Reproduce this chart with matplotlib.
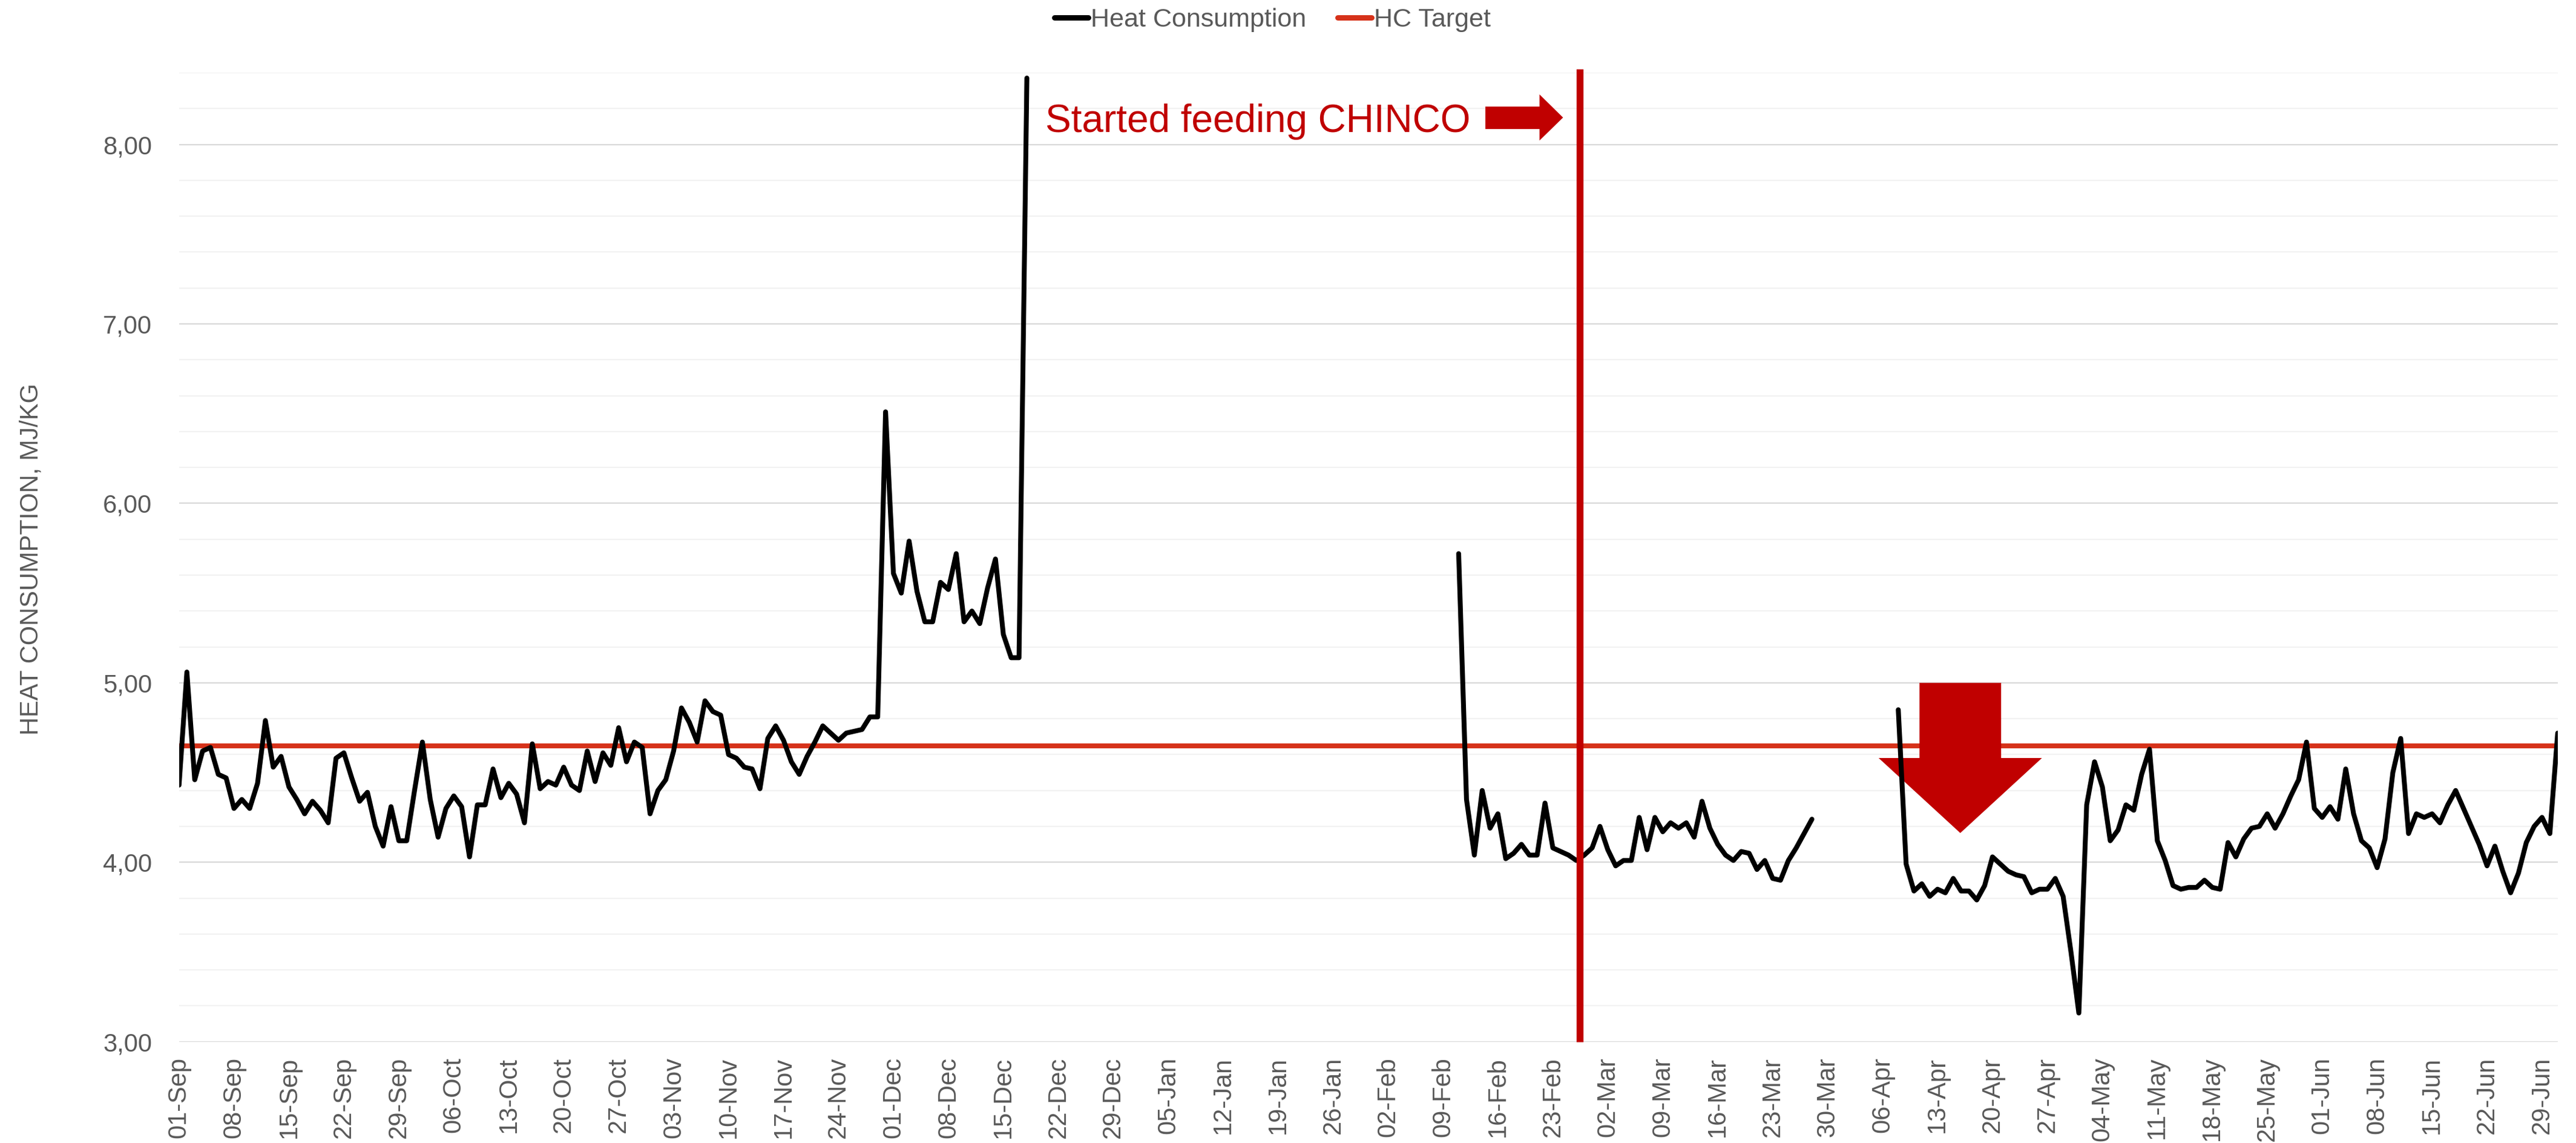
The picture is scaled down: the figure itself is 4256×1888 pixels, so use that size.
import numpy as np
import pandas as pd
import matplotlib
matplotlib.use("Agg")
import matplotlib.pyplot as plt
import matplotlib.dates as mdates
from matplotlib.patches import Polygon
from matplotlib.lines import Line2D
from matplotlib.ticker import MultipleLocator, FuncFormatter

plt.rcParams['font.family'] = ['Liberation Sans', 'DejaVu Sans']

# daily heat consumption, MJ/kg
sep_dec = [4.43, 5.06, 4.46, 4.62, 4.64, 4.49, 4.47, 4.30, 4.35, 4.30,
           4.44, 4.79, 4.53, 4.59, 4.42, 4.35, 4.27, 4.34, 4.29, 4.22,
           4.58, 4.61, 4.47, 4.34, 4.39, 4.20, 4.09, 4.31, 4.12, 4.12,
           4.40, 4.67, 4.35, 4.14, 4.30, 4.37, 4.31, 4.03, 4.32, 4.32,
           4.52, 4.36, 4.44, 4.38, 4.22, 4.66, 4.41, 4.45, 4.43, 4.53,
           4.43, 4.40, 4.62, 4.45, 4.61, 4.54, 4.75, 4.56, 4.67, 4.64,
           4.27, 4.40, 4.46, 4.62, 4.86, 4.78, 4.67, 4.90, 4.84, 4.82,
           4.60, 4.58, 4.53, 4.52, 4.41, 4.69, 4.76, 4.68, 4.56, 4.49,
           4.59, 4.67, 4.76, 4.72, 4.68, 4.72, 4.73, 4.74, 4.81, 4.81,
           6.51, 5.61, 5.50, 5.79, 5.51, 5.34, 5.34, 5.56, 5.52, 5.72,
           5.34, 5.40, 5.33, 5.53, 5.69, 5.27, 5.14, 5.14, 8.37]
feb_mar = [5.72, 4.35, 4.04, 4.40, 4.19, 4.27, 4.02, 4.05, 4.10, 4.04,
           4.04, 4.33, 4.08, 4.06, 4.04, 4.01, 4.04, 4.08, 4.20, 4.07,
           3.98, 4.01, 4.01, 4.25, 4.07, 4.25, 4.17, 4.22, 4.19, 4.22,
           4.14, 4.34, 4.19, 4.10, 4.04, 4.01, 4.06, 4.05, 3.96, 4.01,
           3.91, 3.90, 4.01, 4.08, 4.16, 4.24]
apr_jul = [4.85, 3.99, 3.84, 3.88, 3.81, 3.85, 3.83, 3.91, 3.84, 3.84,
           3.79, 3.87, 4.03, 3.99, 3.95, 3.93, 3.92, 3.83, 3.85, 3.85,
           3.91, 3.81, 3.50, 3.16, 4.32, 4.56, 4.42, 4.12, 4.18, 4.32,
           4.29, 4.49, 4.63, 4.12, 4.01, 3.87, 3.85, 3.86,
           3.86, 3.90, 3.86, 3.85, 4.11, 4.03, 4.13, 4.19, 4.20, 4.27,
           4.19, 4.27, 4.37, 4.46, 4.67, 4.30, 4.25, 4.31, 4.24, 4.52,
           4.27, 4.12, 4.08, 3.97, 4.13, 4.50, 4.69, 4.16, 4.27, 4.25,
           4.27, 4.22, 4.32, 4.40, 4.30, 4.20, 4.10, 3.98, 4.09, 3.95,
           3.83, 3.94, 4.11, 4.20, 4.25, 4.16, 4.72]
hc_target = 4.65

dates = pd.date_range('2018-09-01', '2019-07-01', freq='D')
hc = pd.Series(np.nan, index=dates)
hc.loc['2018-09-01':'2018-12-18'] = sep_dec
hc.loc['2019-02-11':'2019-03-28'] = feb_mar
hc.loc['2019-04-08':'2019-07-01'] = apr_jul
target = pd.Series(hc_target, index=dates)

fig = plt.figure(figsize=(21.28, 9.44), dpi=200)
ax = fig.add_axes([0.0695, 0.0886, 0.9234, 0.8478])

ax.plot(hc.index, hc.values, color='black', lw=2.9, solid_joinstyle='round',
        solid_capstyle='round', zorder=4)
ax.plot(target.index, target.values, color='#D6321A', lw=2.9, zorder=3,
        solid_capstyle='round')

ax.set_xlim(dates[0], dates[-1])
ax.set_ylim(3, 8.4)
ax.yaxis.set_major_locator(MultipleLocator(1))
ax.yaxis.set_minor_locator(MultipleLocator(0.2))
ax.yaxis.set_major_formatter(FuncFormatter(lambda v, p: f"{v:.2f}".replace('.', ',')))
ax.grid(which='major', axis='y', color='#D9D9D9', lw=0.8)
ax.grid(which='minor', axis='y', color='#F2F2F2', lw=0.8)
ax.set_axisbelow(True)
for s in ax.spines.values():
    s.set_visible(False)

ticks = dates[::7]
ax.set_xticks(ticks)
ax.set_xticklabels([d.strftime('%d-%b') for d in ticks], rotation=90)
ax.tick_params(axis='x', length=0, pad=9, labelsize=15, colors='#595959')
ax.tick_params(axis='y', which='both', length=0, pad=16, labelsize=15, colors='#595959')

fig.text(0.012, 0.511, 'HEAT CONSUMPTION, MJ/KG', rotation=90, ha='center',
         va='center', fontsize=15, color='#595959')

# annotations
base = mdates.date2num(dates[0])
ax.plot([base + 178.4] * 2, [3.0, 8.42], color='#C00000', lw=4.1,
        clip_on=False, zorder=6, solid_capstyle='butt')
ax.text(base + 137.4, 8.07, 'Started feeding CHINCO', color='#C00000',
        fontsize=23, ha='center', va='baseline', zorder=6)
right_arrow = [(166.4, 8.211), (173.3, 8.211), (173.3, 8.279), (176.3, 8.150),
               (173.3, 8.022), (173.3, 8.086), (166.4, 8.086)]
ax.add_patch(Polygon([(base + x, y) for x, y in right_arrow], closed=True,
                     facecolor='#C00000', edgecolor='none', zorder=6, clip_on=False))
down_arrow = [(221.7, 5.0), (232.1, 5.0), (232.1, 4.581), (237.3, 4.581),
              (226.9, 4.163), (216.5, 4.581), (221.7, 4.581)]
ax.add_patch(Polygon([(base + x, y) for x, y in down_arrow], closed=True,
                     facecolor='#C00000', edgecolor='none', zorder=3.5))

handles = [Line2D([], [], color='black', lw=3.2, solid_capstyle='round'),
           Line2D([], [], color='#D6321A', lw=3.2, solid_capstyle='round')]
fig.legend(handles, ['Heat Consumption', 'HC Target'], loc='center',
           bbox_to_anchor=(0.494, 0.9825), ncol=2, frameon=False,
           handlelength=1.3, handletextpad=0.1, columnspacing=1.2,
           fontsize=15.5, labelcolor='#595959')

fig.savefig('out.png', dpi=200)
